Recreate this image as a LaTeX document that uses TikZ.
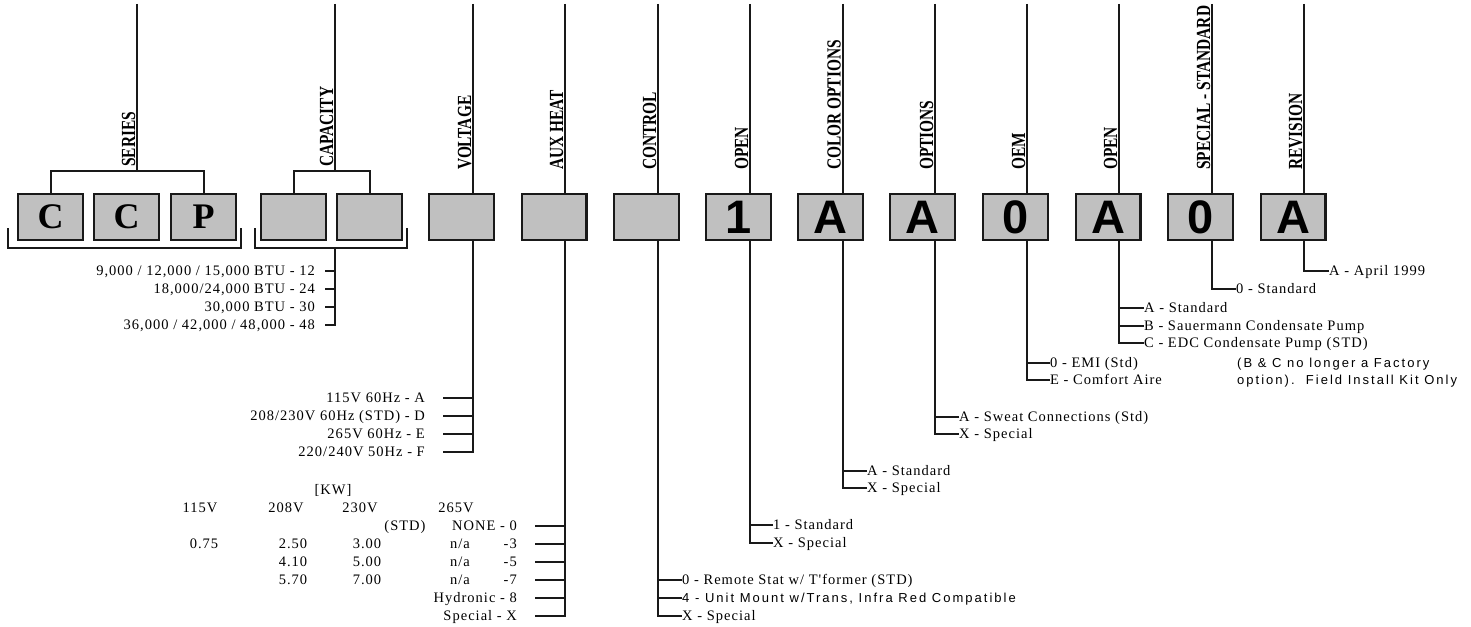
\documentclass[tikz,border=0pt]{standalone}
\usepackage{fontspec}
\usepackage{graphicx}
\setmainfont{Liberation Serif}
\newfontfamily\optfont[LetterSpace=7]{Liberation Serif}
\newfontfamily\optsans[LetterSpace=15.5]{Liberation Sans}
\newfontfamily\boxsans{Liberation Sans}
\definecolor{boxfill}{RGB}{192,192,192}
\definecolor{ink}{RGB}{25,25,25}
\newcommand\narrowlab[1]{\scalebox{0.77}[1]{#1}}
\begin{document}
\begin{tikzpicture}[x=1pt,y=-1pt,
  box/.style={draw=ink, fill=boxfill, line width=2.4pt, minimum width=64.6pt, minimum height=45.6pt, inner sep=0pt, outer sep=0pt},
  serifbox/.style={box, font=\bfseries\fontsize{36}{36}\selectfont},
  sansbox/.style={box, font=\boxsans\bfseries\fontsize{47}{47}\selectfont},
  ln/.style={draw=ink, line width=2pt},
  lab/.style={rotate=90, anchor=base west, inner sep=0pt, font=\bfseries\fontsize{20}{20}\selectfont},
  opt/.style={inner sep=0pt, text height=9.5pt, text depth=0pt, font=\optfont\fontsize{14.5}{15}\selectfont},
  optl/.style={opt, anchor=west},
  optr/.style={opt, anchor=east},
  note/.style={inner sep=0pt, text height=9.3pt, text depth=0pt, anchor=west, font=\optsans\fontsize{13}{14}\selectfont},
]
\useasboundingbox (0,0) rectangle (1471,626);

% ---- code boxes
\node[serifbox] (b1) at (50.5,217) {C};
\node[serifbox] (b2) at (126.5,217) {C};
\node[serifbox] (b3) at (203.5,217) {P};
\node[box] (b4) at (293.5,217) {};
\node[box] (b5) at (369.5,217) {};
\node[box] (b6) at (461.5,217) {};
\node[box] (b7) at (554,217) {};
\node[box] (b8) at (646.5,217) {};
\node[sansbox] (b9) at (738.5,217) {1};
\node[sansbox] (b10) at (830.5,217) {A};
\node[sansbox] (b11) at (922.5,217) {A};
\node[sansbox] (b12) at (1015.5,217) {0};
\node[sansbox] (b13) at (1108,217) {A};
\node[sansbox] (b14) at (1200.5,217) {0};
\node[sansbox] (b15) at (1293,217) {A};

% ---- column lines (top ends)
\coordinate (tS) at (137,4);
\coordinate (tC) at (335,4);
\coordinate (t6) at (473,4);
\coordinate (t7) at (565,4);
\coordinate (t8) at (658,4);
\coordinate (t9) at (750,4);
\coordinate (t10) at (842.5,4);
\coordinate (t11) at (935,4);
\coordinate (t12) at (1027,4);
\coordinate (t13) at (1119,4);
\coordinate (t14) at (1212,4);
\coordinate (t15) at (1304,4);

% ---- column labels
\node[lab] (lS) at (135,167) {\narrowlab{SERIES}};
\node[lab] (lC) at (333,167) {\narrowlab{CAPACITY}};
\node[lab] (l6) at (471,170) {\narrowlab{VOLTAGE}};
\node[lab] (l7) at (563,170) {\narrowlab{AUX HEAT}};
\node[lab] (l8) at (656,170) {\narrowlab{CONTROL}};
\node[lab] (l9) at (748,170) {\narrowlab{OPEN}};
\node[lab] (l10) at (840.5,170) {\narrowlab{COLOR OPTIONS}};
\node[lab] (l11) at (933,170) {\narrowlab{OPTIONS}};
\node[lab] (l12) at (1025,170) {\narrowlab{OEM}};
\node[lab] (l13) at (1117,170) {\narrowlab{OPEN}};
\node[lab] (l14) at (1210,170) {\narrowlab{SPECIAL - STANDARD}};
\node[lab] (l15) at (1302,170) {\narrowlab{REVISION}};

% ---- top connectors
\coordinate (kS) at (137,171);
\coordinate (kCt) at (335,171);
\draw[ln] (tS) -- (kS);
\draw[ln] (b1.north) -- (b1.north |- kS) -- (b3.north |- kS) -- (b3.north);
\draw[ln] (tC) -- (kCt);
\draw[ln] (b4.north) -- (b4.north |- kCt) -- (b5.north |- kCt) -- (b5.north);
\foreach \i in {6,...,15} {\draw[ln] (t\i) -- (t\i |- b\i.north);}

% ---- bottom brackets
\draw[ln] (8,228) -- (8,248) -- (241,248) -- (241,228);
\draw[ln] (255,228) -- (255,248) -- (407,248) -- (407,228);
\coordinate (kC) at (335,248);

% ---- capacity
\node[optr] (c1) at (315,271) {9,000 / 12,000 / 15,000 BTU - 12};
\node[optr] (c2) at (315,289) {18,000/24,000 BTU - 24};
\node[optr] (c3) at (315,307) {30,000 BTU - 30};
\node[optr] (c4) at (315,325) {36,000 / 42,000 / 48,000 - 48};
\draw[ln] (kC) -- (c4.east -| kC) -- ([xshift=10pt]c4.east);
\foreach \n in {c1,c2,c3} {\draw[ln] ([xshift=10pt]\n.east) -- (\n.east -| kC);}

% ---- voltage
\node[optr] (v1) at (425,398) {115V 60Hz - A};
\node[optr] (v2) at (425,416) {208/230V 60Hz (STD) - D};
\node[optr] (v3) at (425,434) {265V 60Hz - E};
\node[optr] (v4) at (425,452) {220/240V 50Hz - F};
\draw[ln] (b6.south -| t6) -- (v4.east -| t6) -- ([xshift=18pt]v4.east);
\foreach \n in {v1,v2,v3} {\draw[ln] ([xshift=18pt]\n.east) -- (\n.east -| t6);}

% ---- aux heat
\node[opt] (kw) at (333,490) {[KW]};
\node[opt] (h1) at (200,508) {115V};
\node[opt] (h2) at (286,508) {208V};
\node[opt] (h3) at (360,508) {230V};
\node[opt] (h4) at (456,508) {265V};
\node[opt] (std) at (405,526) {(STD)};
\node[optr] (a0) at (517,526) {NONE - 0};
\node[opt] (r1a) at (204,544) {0.75};
\node[opt] (r1b) at (293,544) {2.50};
\node[opt] (r1c) at (367,544) {3.00};
\node[opt] (r1d) at (460,544) {n/a};
\node[optr] (a3) at (517,544) {-3};
\node[opt] (r2b) at (293,562) {4.10};
\node[opt] (r2c) at (367,562) {5.00};
\node[opt] (r2d) at (460,562) {n/a};
\node[optr] (a5) at (517,562) {-5};
\node[opt] (r3b) at (293,580) {5.70};
\node[opt] (r3c) at (367,580) {7.00};
\node[opt] (r3d) at (460,580) {n/a};
\node[optr] (a7) at (517,580) {-7};
\node[optr] (a8) at (517,598) {Hydronic - 8};
\node[optr] (aX) at (517,616) {Special - X};
\draw[ln] (b7.south -| t7) -- (aX.east -| t7) -- ([xshift=18pt]aX.east);
\foreach \n in {a0,a3,a5,a7,a8} {\draw[ln] ([xshift=18pt]\n.east) -- (\n.east -| t7);}

% ---- control
\node[optl] (k1) at (682,580) {0 - Remote Stat w/ T'former (STD)};
\node[note] (k2) at (682,598) {4 - Unit Mount w/Trans, Infra Red Compatible};
\node[optl] (k3) at (682,616) {X - Special};
\draw[ln] (b8.south -| t8) |- (k3.west);
\foreach \n in {k1,k2} {\draw[ln] (\n.west) -- (\n.west -| t8);}

% ---- open (1)
\node[optl] (p1) at (773,525) {1 - Standard};
\node[optl] (p2) at (773,543) {X - Special};
\draw[ln] (b9.south -| t9) |- (p2.west);
\draw[ln] (p1.west) -- (p1.west -| t9);

% ---- color options
\node[optl] (q1) at (867,471) {A - Standard};
\node[optl] (q2) at (867,488) {X - Special};
\draw[ln] (b10.south -| t10) |- (q2.west);
\draw[ln] (q1.west) -- (q1.west -| t10);

% ---- options
\node[optl] (s1) at (959,417) {A - Sweat Connections (Std)};
\node[optl] (s2) at (959,434) {X - Special};
\draw[ln] (b11.south -| t11) |- (s2.west);
\draw[ln] (s1.west) -- (s1.west -| t11);

% ---- OEM
\node[optl] (e1) at (1050,363) {0 - EMI (Std)};
\node[optl] (e2) at (1050,380) {E - Comfort Aire};
\draw[ln] (b12.south -| t12) |- (e2.west);
\draw[ln] (e1.west) -- (e1.west -| t12);

% ---- open (A)
\node[optl] (g1) at (1144,308) {A - Standard};
\node[optl] (g2) at (1144,326) {B - Sauermann Condensate Pump};
\node[optl] (g3) at (1144,343) {C - EDC Condensate Pump (STD)};
\draw[ln] (b13.south -| t13) |- (g3.west);
\foreach \n in {g1,g2} {\draw[ln] (\n.west) -- (\n.west -| t13);}
\node[note] (n1) at (1237,363) {(B \& C no longer a Factory};
\node[note] (n2) at (1237,380) {option).\ \ Field Install Kit Only};

% ---- special - standard
\node[optl] (z1) at (1236,289) {0 - Standard};
\draw[ln] (b14.south -| t14) |- (z1.west);

% ---- revision
\node[optl] (r1) at (1329,271) {A - April 1999};
\draw[ln] (b15.south -| t15) |- (r1.west);
\end{tikzpicture}
\end{document}
